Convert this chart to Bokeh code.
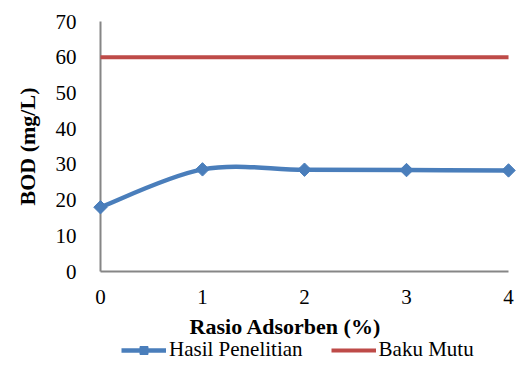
from bokeh.plotting import figure
from bokeh.models import Legend, LegendItem, Range1d, FixedTicker, Label
from bokeh.embed import file_html
from bokeh.resources import INLINE
import math

# Rasio adsorben (%) and measured BOD (mg/L)
rasio = [0, 1, 2, 3, 4]
hasil_penelitian = [18.0, 28.6, 28.5, 28.4, 28.3]
baku_mutu = [60, 60, 60, 60, 60]
y_ticks = [0, 10, 20, 30, 40, 50, 60, 70]

BLUE = "#4A7EBB"
RED = "#BE4B48"
AXIS = "#868686"
FONT = "Liberation Serif"
FS = "21px"
TITLE_FS = "22px"

# The frame spans the whole canvas; axes sit at x = 0 and y = 0 inside it,
# leaving room for titles and the legend below and to the left.
p = figure(width=517, height=385, output_backend="svg", toolbar_location=None,
           x_range=Range1d(-0.980, 4.088), y_range=Range1d(-31.92, 75.88),
           min_border=0, min_border_left=0, min_border_right=0,
           min_border_top=0, min_border_bottom=0)
p.outline_line_color = None
p.background_fill_color = "white"
p.border_fill_color = "white"
p.xgrid.grid_line_color = None
p.ygrid.grid_line_color = None

# Smoothed series: Catmull-Rom segments turned into cubic Bezier control points
n = len(rasio)
x0, y0, x1, y1, cx0, cy0, cx1, cy1 = [], [], [], [], [], [], [], []
for i in range(n - 1):
    pa = (rasio[max(i - 1, 0)], hasil_penelitian[max(i - 1, 0)])
    pb = (rasio[i], hasil_penelitian[i])
    pc = (rasio[i + 1], hasil_penelitian[i + 1])
    pd = (rasio[min(i + 2, n - 1)], hasil_penelitian[min(i + 2, n - 1)])
    x0.append(pb[0]); y0.append(pb[1])
    x1.append(pc[0]); y1.append(pc[1])
    cx0.append(pb[0] + (pc[0] - pa[0]) / 6); cy0.append(pb[1] + (pc[1] - pa[1]) / 6)
    cx1.append(pc[0] - (pd[0] - pb[0]) / 6); cy1.append(pc[1] - (pd[1] - pb[1]) / 6)

p.bezier(x0=x0, y0=y0, x1=x1, y1=y1, cx0=cx0, cy0=cy0, cx1=cx1, cy1=cy1,
         line_color=BLUE, line_width=4.5)
markers = p.scatter(rasio, hasil_penelitian, marker="square", angle=math.pi / 4,
                    size=9.5, fill_color=BLUE, line_color=BLUE)
red_line = p.line(rasio, baku_mutu, line_color=RED, line_width=4)

# line used only for the legend swatch of the blue series
legend_line = p.line(x=[float("nan")], y=[float("nan")], line_color=BLUE, line_width=4.5)

# axes pinned at the data origin
p.xaxis.fixed_location = 0
p.yaxis.fixed_location = 0
p.xaxis.bounds = (0, 4)
p.yaxis.bounds = (0, 70)
p.xaxis.ticker = FixedTicker(ticks=rasio)
p.yaxis.ticker = FixedTicker(ticks=y_ticks)
for ax in (p.xaxis, p.yaxis):
    ax.level = "underlay"
    ax.axis_line_color = AXIS
    ax.axis_line_width = 2
    ax.major_tick_line_color = None
    ax.minor_tick_line_color = None
    ax.major_label_text_font = FONT
    ax.major_label_text_font_size = FS
    ax.major_label_text_color = "black"
p.xaxis.major_label_standoff = 12
p.yaxis.major_label_standoff = 18

# axis titles
p.add_layout(Label(x=1.814, y=-15.3, text="Rasio Adsorben (%)", text_font=FONT,
                   text_font_style="bold", text_font_size=TITLE_FS, text_color="black",
                   text_align="center", text_baseline="middle"))
p.add_layout(Label(x=-0.716, y=35, text="BOD (mg/L)", text_font=FONT, angle=math.pi / 2,
                   text_font_style="bold", text_font_size=TITLE_FS, text_color="black",
                   text_align="center", text_baseline="middle"))

legend = Legend(items=[LegendItem(label="Hasil Penelitian", renderers=[legend_line, markers]),
                       LegendItem(label="Baku Mutu", renderers=[red_line])],
                orientation="horizontal", location=(121, 23),
                label_text_font=FONT, label_text_font_size=FS, label_text_color="black",
                glyph_width=45, glyph_height=20, label_height=20,
                label_standoff=3, spacing=28,
                padding=0, margin=0, border_line_color=None,
                background_fill_alpha=0)
p.add_layout(legend, "center")

open("out.html", "w").write(file_html(p, INLINE))
